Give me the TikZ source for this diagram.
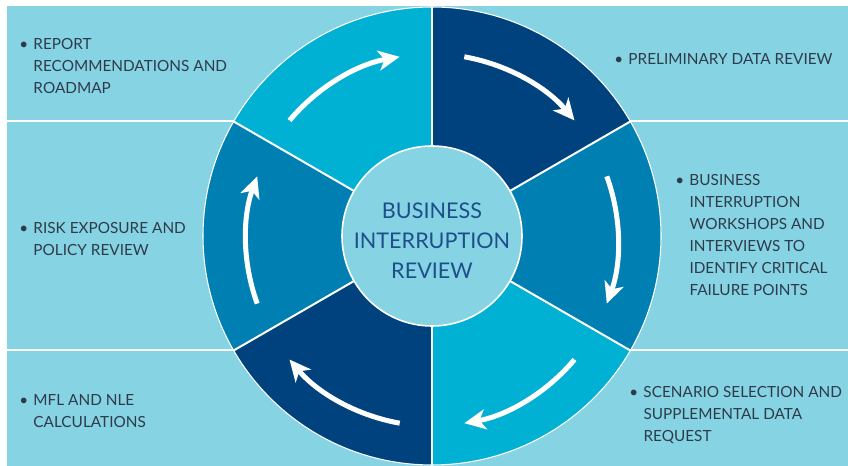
\documentclass[tikz,border=0pt]{standalone}
\usepackage{fontspec}
\setmainfont{Lato}
\usetikzlibrary{arrows.meta}

\definecolor{panel}{HTML}{86D3E3}
\definecolor{navyseg}{HTML}{00427E}
\definecolor{midseg}{HTML}{0080B2}
\definecolor{cyanseg}{HTML}{00B1D3}
\definecolor{itemgray}{HTML}{2E3B4A}
\definecolor{hubblue}{HTML}{1D4F8B}

\newcommand{\stepitem}[1]{\begin{tabular}[t]{@{}l@{\hspace{4pt}}l@{}}\textbullet & \begin{tabular}[t]{@{}l@{}}#1\end{tabular}\end{tabular}}

\begin{document}
\begin{tikzpicture}[x=0.75pt, y=0.75pt,
                   every node/.style={inner sep=0pt},
                   item/.style={anchor=base west, text=itemgray,
                                font=\fontsize{11.5}{16.5}\selectfont},
                   flow/.style={white, line width=3.75pt,
                                -{Stealth[length=16pt,width=15pt,inset=4.5pt]}}]

\useasboundingbox (0,0) rectangle (848,466);
\fill[panel] (7,0) rectangle (848,460);
\coordinate (bl) at (7,0);
\coordinate (br) at (848,0);
\coordinate (c) at (432,230);
\coordinate (ac) at (432,226);

% ring segments
\foreach \a/\col in {90/navyseg, 30/midseg, -30/cyanseg, -90/navyseg, -150/midseg, 150/cyanseg}
	\fill[\col] (c) -- ++(\a:229) arc[start angle=\a, end angle=\a-60, radius=229] -- cycle;
\foreach \a in {90,30,-30,-90,-150,150}
	\draw[white, line width=1.5pt] (c) -- ++(\a:229);
\draw[white, line width=0.8pt] (c) circle[radius=229];

% panel lines
\path (c) ++(150:229) coordinate (ul) ++(0,-229) coordinate (ll);
\path (c) ++(30:229) coordinate (ur) ++(0,-229) coordinate (lr);
\draw[white, line width=1.5pt] (ul) -- (ul -| bl) (ll) -- (ll -| bl);
\draw[white, line width=1.5pt] (ur) -- (ur -| br) (lr) -- (lr -| br);

% arrows
\foreach \m in {60,0,-60,-120,-180,120}
	\draw[flow] (ac) ++(\m+20:186) arc[start angle=\m+20, end angle=\m-20, radius=186];

% hub
\node (hub) [circle, fill=panel, draw=white, line width=1.2pt, minimum size=135pt] at (c) {};
\node (hubtext) [align=center, text=hubblue, font=\fontsize{16.2}{22.5}\selectfont] at (432,225.5) {BUSINESS\\INTERRUPTION\\REVIEW};

% steps
\node (prelim) [item] at (614,401) {\stepitem{PRELIMINARY DATA REVIEW}};
\node (workshops) [item] at (675,280) {\stepitem{BUSINESS\\INTERRUPTION\\WORKSHOPS AND\\INTERVIEWS TO\\IDENTIFY CRITICAL\\FAILURE POINTS}};
\node (scenario) [item] at (629,68) {\stepitem{SCENARIO SELECTION AND\\SUPPLEMENTAL DATA\\REQUEST}};
\node (mfl) [item] at (19,60) {\stepitem{MFL AND NLE\\CALCULATIONS}};
\node (risk) [item] at (19,232) {\stepitem{RISK EXPOSURE AND\\POLICY REVIEW}};
\node (report) [item] at (19,416) {\stepitem{REPORT\\RECOMMENDATIONS AND\\ROADMAP}};

\end{tikzpicture}
\end{document}
